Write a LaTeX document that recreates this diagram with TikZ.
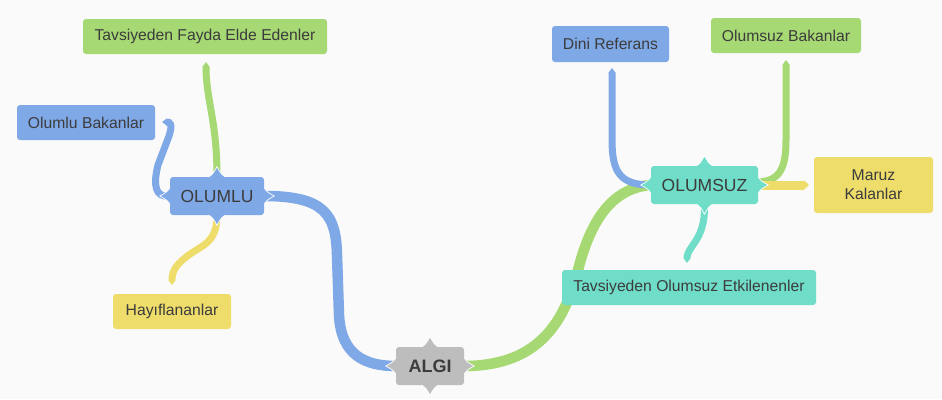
\documentclass[tikz,border=0pt]{standalone}
\usepackage{fontspec}
\setmainfont{Liberation Sans}
\usetikzlibrary{arrows.meta,calc}
\definecolor{cblue}{HTML}{7FA8E6}
\definecolor{cgreen}{HTML}{A6D873}
\definecolor{cyellow}{HTML}{EEDC6B}
\definecolor{cteal}{HTML}{70DDC9}
\definecolor{cgrey}{HTML}{BDBDBD}
\definecolor{ctext}{HTML}{3C3C3C}
\definecolor{cbg}{HTML}{FAFAFA}
\pgfdeclarelayer{back}
\pgfdeclarelayer{links}
\pgfsetlayers{back,links,main}
\newcommand\mkpoints[2]{%
  \foreach \an/\ux/\uy in {north/0/-1,south/0/1,west/-1/0,east/1/0}{%
    \fill[#2] ($(#1.\an)+({8*\uy},{-8*\ux})$) .. controls ($(#1.\an)+({4*\uy+3*\ux},{-4*\ux+3*\uy})$) .. ($(#1.\an)+({10*\ux},{10*\uy})$)
      .. controls ($(#1.\an)+({-4*\uy+3*\ux},{4*\ux+3*\uy})$) .. ($(#1.\an)+({-8*\uy},{8*\ux})$) -- cycle;
    \draw[white,line width=0.7pt] ($(#1.\an)+({8*\uy},{-8*\ux})$) .. controls ($(#1.\an)+({4*\uy+3*\ux},{-4*\ux+3*\uy})$) .. ($(#1.\an)+({10*\ux},{10*\uy})$)
      .. controls ($(#1.\an)+({-4*\uy+3*\ux},{4*\ux+3*\uy})$) .. ($(#1.\an)+({-8*\uy},{8*\ux})$);
  }}
\begin{document}
\begin{tikzpicture}[x=1pt,y=-1pt,
  box/.style={rounded corners=3pt, inner sep=0pt, text=ctext, align=center,
    font=\fontsize{15.7}{19}\selectfont, minimum height=35pt},
  mainbox/.style={box, minimum height=38pt, font=\fontsize{17.5}{20}\selectfont},
  link/.style={line width=7pt, -{Triangle[length=5pt,width=0pt 1]}},
  trunk/.style={line width=10.5pt}]
\begin{pgfonlayer}{back}
\fill[cbg] (0,0) rectangle (942,399);
\end{pgfonlayer}
\useasboundingbox (0,0) rectangle (942,399);

% nodes
\node[box, fill=cgreen, minimum width=244pt] (fayda) at (205,36.5) {Tavsiyeden Fayda Elde Edenler};
\node[box, fill=cblue, minimum width=138pt] (olbak) at (86,122.5) {Olumlu Bakanlar};
\node[mainbox, fill=cblue, minimum width=94pt] (olumlu) at (217,196) {OLUMLU};
\node[box, fill=cyellow, minimum width=118pt] (hayif) at (172,311.5) {Hayıflananlar};
\node[mainbox, fill=cgrey, minimum width=68pt, font=\fontsize{18}{20}\selectfont\bfseries] (algi) at (430,366) {ALGI};
\node[box, fill=cblue, minimum width=117pt, minimum height=36pt] (dini) at (610.5,44) {Dini Referans};
\node[box, fill=cgreen, minimum width=150pt] (olbakz) at (786,35.5) {Olumsuz Bakanlar};
\node[mainbox, fill=cteal, minimum width=107pt] (olumsuz) at (704.5,185) {OLUMSUZ};
\node[box, fill=cyellow, minimum width=119pt, minimum height=56pt] (maruz) at (873.5,185) {Maruz\\Kalanlar};
\node[box, fill=cteal, minimum width=254pt] (etk) at (689,287.5) {Tavsiyeden Olumsuz Etkilenenler};

\mkpoints{olumlu}{cblue}
\mkpoints{algi}{cgrey}
\mkpoints{olumsuz}{cteal}

% free ends of the links
\coordinate (efayda) at (206,62);
\coordinate (eolbak) at (162,122);
\coordinate (ehayif) at (172,285);
\coordinate (edini) at (612,68);
\coordinate (eolbakz) at (786,60);
\coordinate (emaruz) at (809,185);
\coordinate (eetk) at (687,263);

\begin{pgfonlayer}{links}
\draw[trunk, cblue] (olumlu.east) .. controls (325,196) and (336,215) .. (337,255) -- (339,315) .. controls (341,355) and (365,366) .. (algi.west);
\draw[trunk, cgreen] (algi.east) .. controls (540,366) and (565,320) .. (578,270) .. controls (592,215) and (615,188) .. (olumsuz.west);
\draw[link, cgreen] (olumlu.north) .. controls (217,120) and (206,100) .. (efayda);
\draw[link, cblue] (olumlu.west) .. controls (155,198) and (153,185) .. (158,165) -- (169,136) .. controls (173,124) and (170,122) .. (eolbak);
\draw[link, cyellow] (olumlu.south) .. controls (217,245) and (200,245) .. (185,258) .. controls (175,266) and (172,272) .. (ehayif);
\draw[link, cblue] (olumsuz.west) .. controls (620,185) and (612,172) .. (612,140) -- (edini);
\draw[link, cgreen] ($(olumsuz.east)+(0,-3)$) .. controls (780,181) and (786,168) .. (786,140) -- (eolbakz);
\draw[link, cyellow, line width=9pt] (olumsuz.east) -- (emaruz);
\draw[link, cteal] (olumsuz.south) .. controls (705,225) and (700,235) .. (693,245) .. controls (688,252) and (687,255) .. (eetk);
\end{pgfonlayer}
\end{tikzpicture}
\end{document}
